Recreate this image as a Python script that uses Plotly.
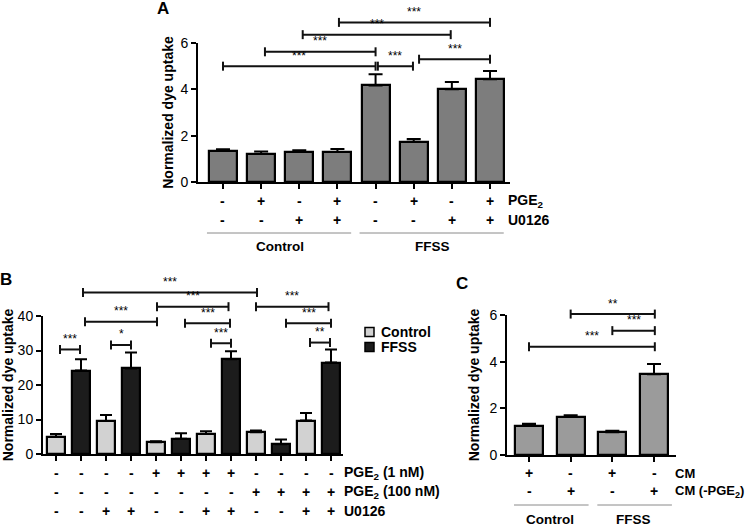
import plotly.graph_objects as go

W, H = 745, 526
FONT = "Liberation Sans, Arial, sans-serif"

# ---------------- data ----------------
# Panel A
a_vals = [1.34, 1.21, 1.29, 1.29, 4.17, 1.74, 4.00, 4.43]
a_err = [0.07, 0.11, 0.08, 0.13, 0.48, 0.12, 0.32, 0.36]
a_rows = {"PGE<sub>2</sub>": ["-", "+", "-", "+", "-", "+", "-", "+"],
          "U0126": ["-", "-", "+", "+", "-", "-", "+", "+"]}
a_groups = [("Control", 0, 3), ("FFSS", 4, 7)]
a_sig = [(0.0, 4.0, 5.0, "***"), (1.1, 4.0, 5.62, "***"), (2.09, 5.97, 6.36, "***"),
         (3.04, 7.0, 6.89, "***"), (4.06, 4.98, 5.0, "***"), (5.14, 7.0, 5.3, "***")]

# Panel B
b_series = ["Control", "FFSS"]
b_control = [5.0, 9.6, 3.4, 5.8, 6.3, 9.7]
b_control_err = [0.8, 1.7, 0.3, 0.8, 0.5, 2.2]
b_ffss = [24.2, 24.8, 4.4, 27.5, 2.8, 26.5]
b_ffss_err = [3.3, 4.6, 1.6, 2.3, 1.4, 3.8]
b_rows = {"PGE<sub>2</sub> (1 nM)": ["-", "-", "-", "-", "+", "+", "+", "+", "-", "-", "-", "-"],
          "PGE<sub>2</sub> (100 nM)": ["-", "-", "-", "-", "-", "-", "-", "-", "+", "+", "+", "+"],
          "U0126": ["-", "-", "+", "+", "-", "-", "+", "+", "-", "-", "+", "+"]}
b_sig = [(1.08, 8.04, 46.8, "***"), (4.04, 6.9, 42.7, "***"), (8.0, 10.9, 42.7, "***"),
         (1.16, 4.04, 38.3, "***"), (5.16, 6.96, 37.9, "***"), (9.2, 11.0, 37.9, "***"),
         (0.16, 0.96, 30.3, "***"), (2.2, 3.0, 31.6, "*"), (6.2, 7.0, 32.1, "***"),
         (10.16, 10.96, 32.3, "**")]

# Panel C
c_vals = [1.26, 1.64, 0.97, 3.46]
c_err = [0.08, 0.06, 0.07, 0.44]
c_rows = {"CM": ["+", "-", "+", "-"],
          "CM (-PGE<sub>2</sub>)": ["-", "+", "-", "+"]}
c_groups = [("Control", 0, 1), ("FFSS", 2, 3)]
c_sig = [(1.0, 3.02, 6.04, "**"), (2.0, 3.02, 5.33, "***"), (0.0, 3.02, 4.64, "***")]

y_title = "Normalized dye uptake"

# ---------------- layout geometry ----------------
def px2x(p):
    return p / W

def px2y(p):
    return 1 - p / H

A_dx = [px2x(198), px2x(510)]
A_dy = [px2y(182), px2y(43)]
A_xr = [-0.655, 7.524]
A_yr = [0, 6]

B_dx = [px2x(43), px2x(343)]
B_dy = [px2y(454), px2y(316)]
B_xr = [-0.52, 11.48]
B_yr = [0, 40]

C_dx = [px2x(507), px2x(676)]
C_dy = [px2y(455), px2y(315)]
C_xr = [-0.528, 3.528]
C_yr = [0, 6]


def yp(v, dom, rng):
    return dom[0] + (v - rng[0]) / (rng[1] - rng[0]) * (dom[1] - dom[0])


err_style = dict(type="data", symmetric=False, color="black", thickness=2)

fig = go.Figure()

# Panel A bars
ax_idx = list(range(len(a_vals)))
fig.add_trace(go.Bar(x=ax_idx, y=a_vals, width=0.734, xaxis="x", yaxis="y",
                     marker=dict(color="#7d7d7d", line=dict(color="black", width=2.2)),
                     error_y=dict(array=a_err, arrayminus=[0] * len(a_err), width=7, **err_style),
                     showlegend=False))

# Panel B bars
bc_x = [2 * i for i in range(len(b_control))]
bf_x = [2 * i + 1 for i in range(len(b_ffss))]
fig.add_trace(go.Bar(x=bc_x, y=b_control, width=0.72, xaxis="x2", yaxis="y2", name=b_series[0],
                     marker=dict(color="#d2d2d2", line=dict(color="black", width=2.2)),
                     error_y=dict(array=b_control_err, arrayminus=[0] * 6, width=6, **err_style),
                     showlegend=False))
fig.add_trace(go.Bar(x=bf_x, y=b_ffss, width=0.72, xaxis="x2", yaxis="y2", name=b_series[1],
                     marker=dict(color="#1c1c1c", line=dict(color="black", width=2.2)),
                     error_y=dict(array=b_ffss_err, arrayminus=[0] * 6, width=6, **err_style),
                     showlegend=False))

# Panel C bars
cx_idx = list(range(len(c_vals)))
fig.add_trace(go.Bar(x=cx_idx, y=c_vals, width=0.672, xaxis="x3", yaxis="y3",
                     marker=dict(color="#9b9b9b", line=dict(color="black", width=2.2)),
                     error_y=dict(array=c_err, arrayminus=[0] * len(c_err), width=7, **err_style),
                     showlegend=False))

shapes = []
annotations = []


def add_sig(sig, xref, dom, rng):
    cap = 4.5 / H
    for x0, x1, v, lab in sig:
        y = yp(v, dom, rng)
        line = dict(color="#111111", width=2)
        shapes.append(dict(type="line", xref=xref, yref="paper", x0=x0, x1=x1, y0=y, y1=y, line=line))
        shapes.append(dict(type="line", xref=xref, yref="paper", x0=x0, x1=x0, y0=y - cap, y1=y + cap, line=line))
        shapes.append(dict(type="line", xref=xref, yref="paper", x0=x1, x1=x1, y0=y - cap, y1=y + cap, line=line))
        annotations.append(dict(x=(x0 + x1) / 2, xref=xref, y=y + 1.5 / H, yref="paper", text=lab,
                                showarrow=False, yanchor="bottom", xanchor="center",
                                font=dict(family=FONT, size=12, color="black")))


add_sig(a_sig, "x", A_dy, A_yr)
add_sig(b_sig, "x2", B_dy, B_yr)
add_sig(c_sig, "x3", C_dy, C_yr)

bold = dict(family=FONT, size=14, color="black")
bold_c = dict(family=FONT, size=13, color="black")
group_font = dict(family=FONT, size=13.5, color="black")


def add_rows(rows, xref, row_py, label_px, font):
    for (label, signs), py in zip(rows.items(), row_py):
        for i, s in enumerate(signs):
            annotations.append(dict(x=i, xref=xref, y=px2y(py), yref="paper", text="<b>%s</b>" % s,
                                    showarrow=False, xanchor="center", yanchor="middle", font=bold))
        annotations.append(dict(x=px2x(label_px), xref="paper", y=px2y(py), yref="paper",
                                text="<b>%s</b>" % label, showarrow=False, xanchor="left",
                                yanchor="middle", font=font))


add_rows(a_rows, "x", [201, 219.5], 506, bold)
add_rows(b_rows, "x2", [472.5, 491.5, 510.5], 342, bold)
add_rows(c_rows, "x3", [473, 491], 673, bold_c)


def add_groups(groups, xref, line_py, text_py, lpad, rpad):
    for name, i0, i1 in groups:
        shapes.append(dict(type="line", xref=xref, yref="paper", x0=i0 - lpad, x1=i1 + rpad,
                           y0=px2y(line_py), y1=px2y(line_py), line=dict(color="#8a8a8a", width=1)))
        annotations.append(dict(x=(i0 + i1) / 2, xref=xref, y=px2y(text_py), yref="paper",
                                text="<b>%s</b>" % name, showarrow=False, xanchor="center",
                                yanchor="middle", font=group_font))


add_groups(a_groups, "x", 233, 247, 0.42, 0.36)
add_groups(c_groups, "x3", 505, 519, 0.36, 0.43)

# Panel letters
for letter, lx, ly in [("A", 163, 8), ("B", 6, 279), ("C", 462, 283)]:
    annotations.append(dict(x=px2x(lx), y=px2y(ly), xref="paper", yref="paper", text="<b>%s</b>" % letter,
                            showarrow=False, xanchor="center", yanchor="middle",
                            font=dict(family=FONT, size=17, color="black")))

# Legend for panel B (manual)
for name, color, py in [(b_series[0], "#d2d2d2", 332), (b_series[1], "#1c1c1c", 347)]:
    shapes.append(dict(type="rect", xref="paper", yref="paper", x0=px2x(365), x1=px2x(374),
                       y0=px2y(py + 4.5), y1=px2y(py - 4.5), fillcolor=color,
                       line=dict(color="black", width=1.5)))
    annotations.append(dict(x=px2x(379), y=px2y(py), xref="paper", yref="paper", text="<b>%s</b>" % name,
                            showarrow=False, xanchor="left", yanchor="middle",
                            font=dict(family=FONT, size=14, color="black")))


def xax(dom, rng, n, anchor):
    return dict(domain=dom, range=rng, anchor=anchor, showline=True, linecolor="black", linewidth=2,
                ticks="outside", ticklen=5, tickwidth=1.5, tickcolor="black",
                tickvals=list(range(n)), showticklabels=False, showgrid=False, zeroline=False,
                fixedrange=True)


def yax(dom, rng, tv, anchor, standoff):
    return dict(domain=dom, range=rng, anchor=anchor, showline=True, linecolor="black", linewidth=2,
                ticks="outside", ticklen=5, tickwidth=1.5, tickcolor="black", tickvals=tv,
                tickfont=dict(family=FONT, size=14, color="black"), showgrid=False, zeroline=False,
                title=dict(text="<b>%s</b>" % y_title, standoff=standoff,
                           font=dict(family=FONT, size=14, color="black")),
                automargin=False, fixedrange=True)


fig.update_layout(
    width=W, height=H, margin=dict(l=0, r=0, t=0, b=0),
    paper_bgcolor="white", plot_bgcolor="white",
    font=dict(family=FONT, color="black"),
    bargap=0,
    xaxis=xax(A_dx, A_xr, 8, "y"),
    yaxis=yax(A_dy, A_yr, [0, 2, 4, 6], "x", 4),
    xaxis2=xax(B_dx, B_xr, 12, "y2"),
    yaxis2=yax(B_dy, B_yr, [0, 10, 20, 30, 40], "x2", 3),
    xaxis3=xax(C_dx, C_xr, 4, "y3"),
    yaxis3=yax(C_dy, C_yr, [0, 2, 4, 6], "x3", 7),
    shapes=shapes, annotations=annotations, showlegend=False,
)

fig.write_html("out.html", config={"displayModeBar": False},
               post_script="document.body.style.margin='0';document.body.style.overflow='hidden';")
